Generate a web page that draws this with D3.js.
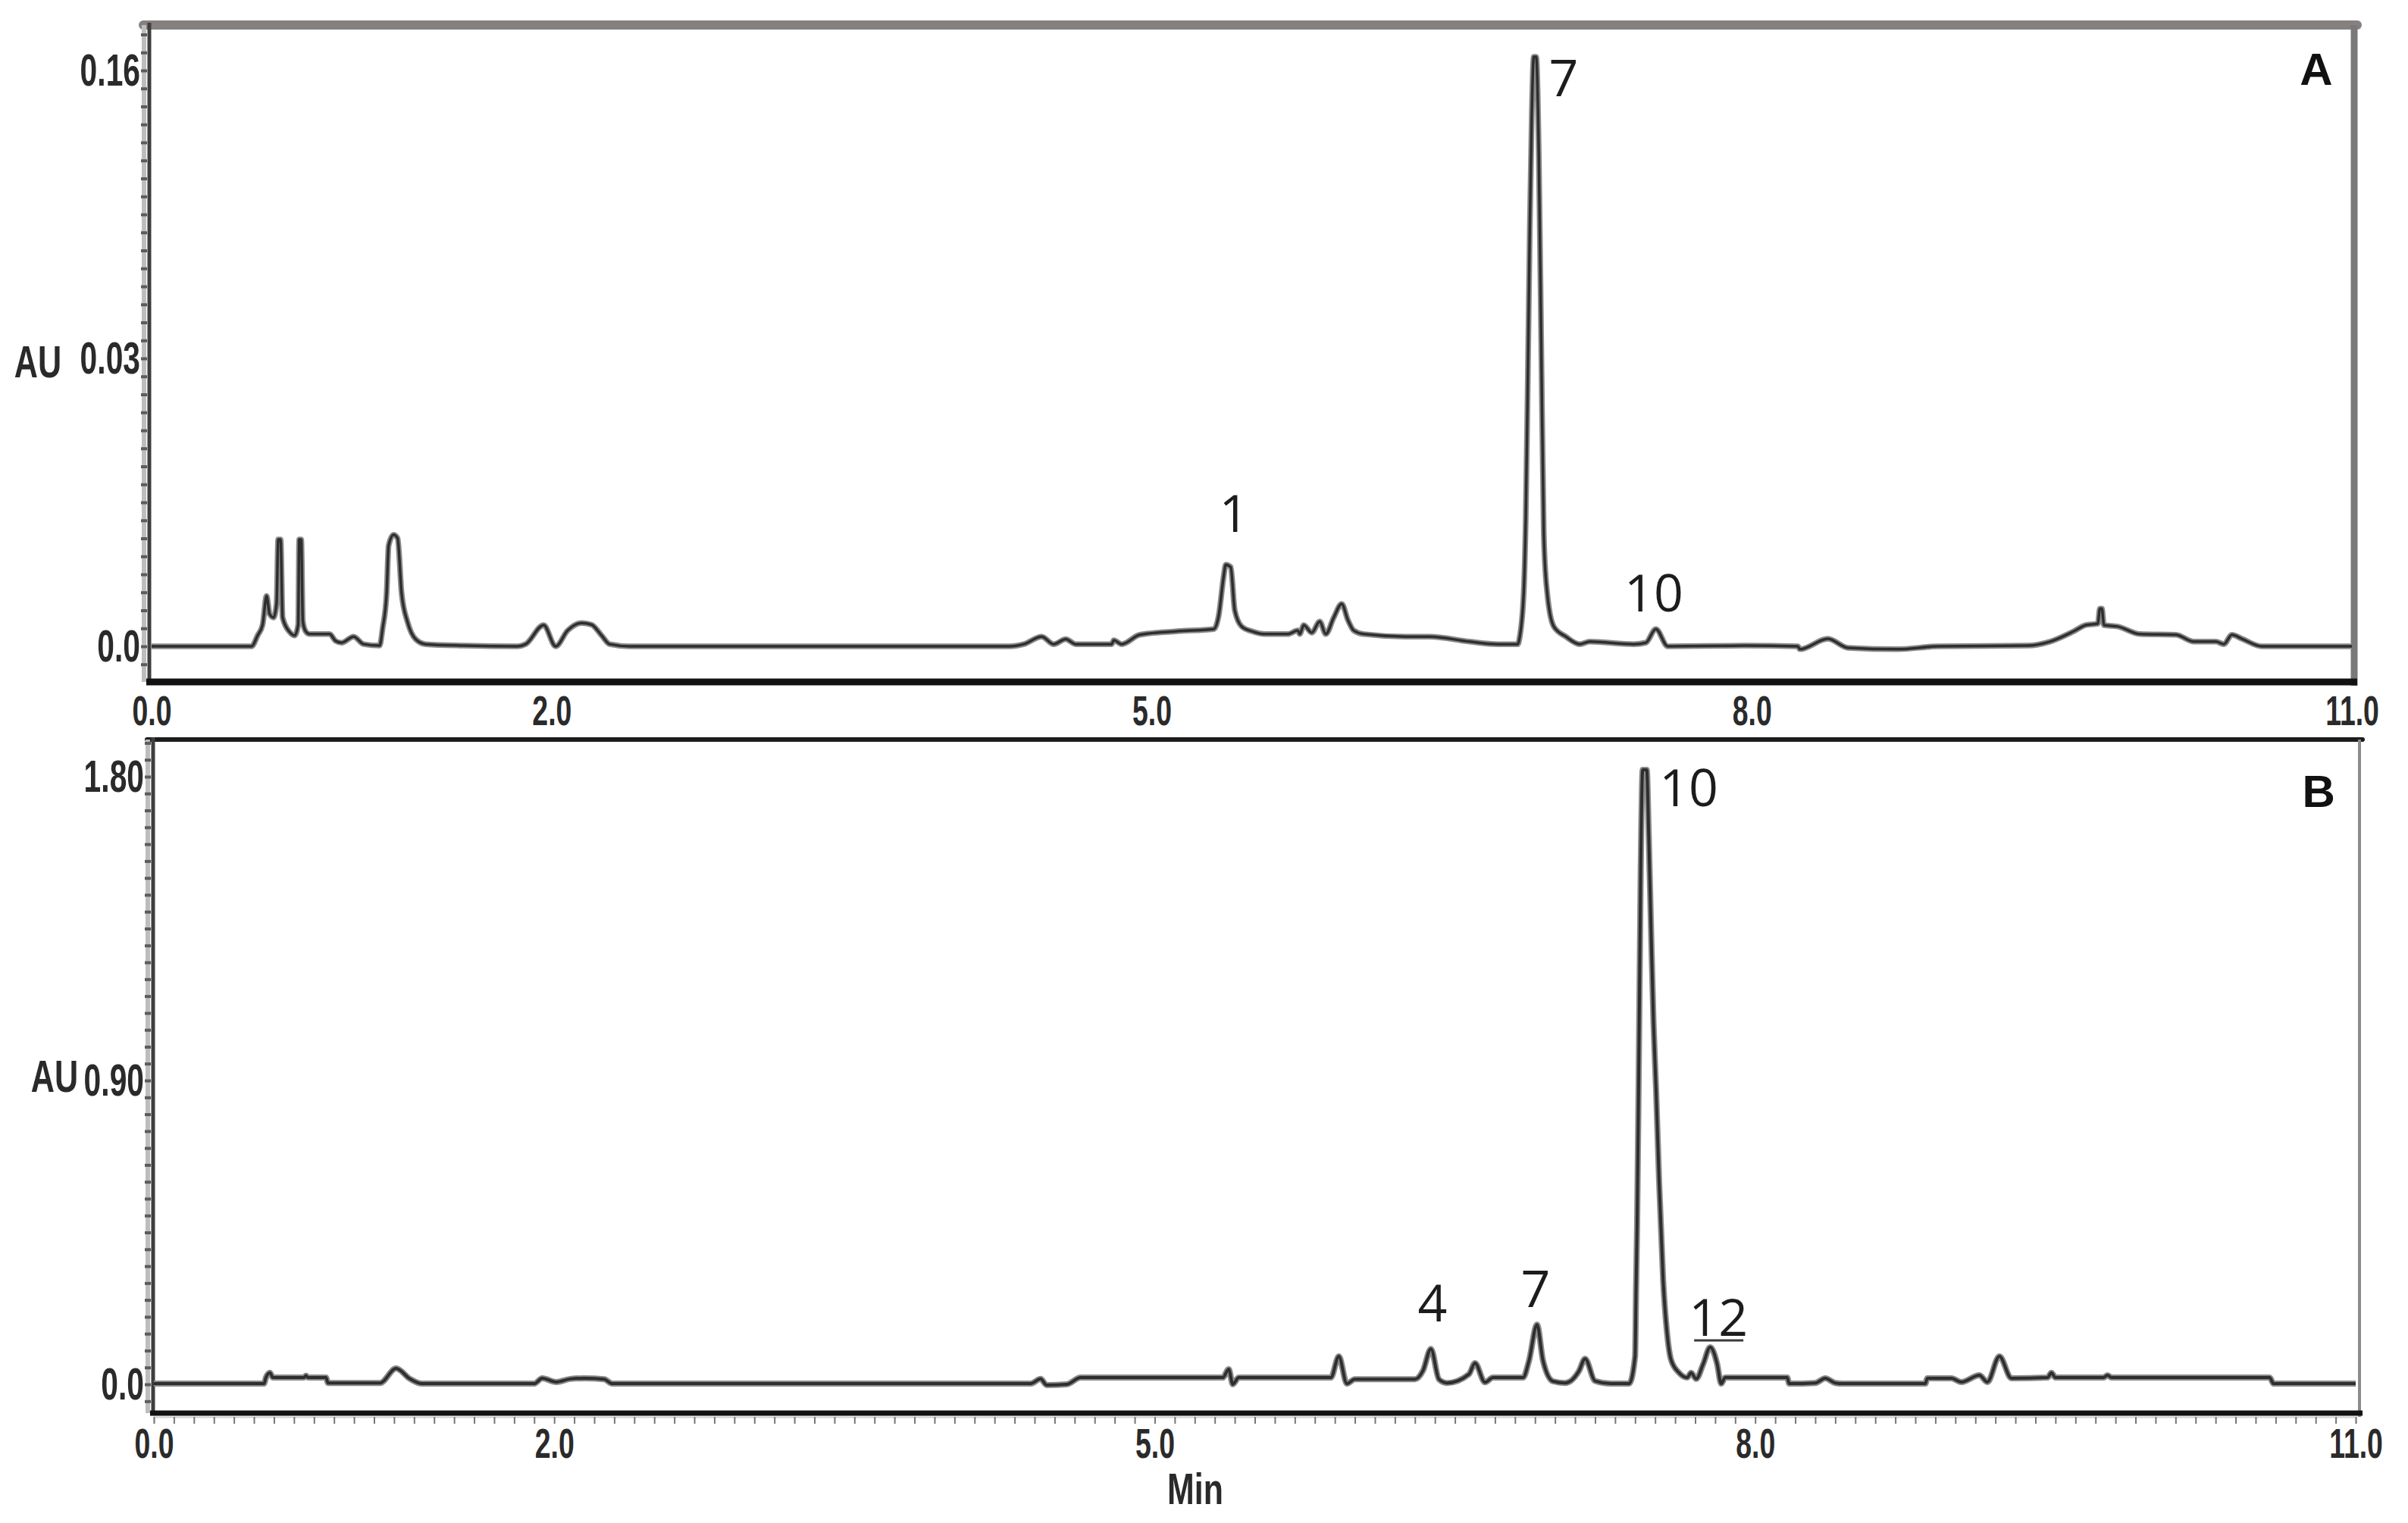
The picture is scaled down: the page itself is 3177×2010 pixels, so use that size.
<!DOCTYPE html>
<html><head><meta charset="utf-8">
<script src="https://cdn.jsdelivr.net/npm/d3@7"></script>
<style>html,body{margin:0;padding:0;background:#fff;} svg{display:block;}</style>
</head><body>
<svg id="chart" width="3177" height="2010"></svg>
<script>
// ---------------- DATA ----------------
const timeTicks = [0, 2, 5, 8, 11];
const timeTickLabels = ["0.0", "2.0", "5.0", "8.0", "11.0"];
const auTicksA = [0, 0.08, 0.16];
const auTickLabelsA = ["0.0", "0.03", "0.16"];
const auTicksB = [0, 0.9, 1.8];
const auTickLabelsB = ["0.0", "0.90", "1.80"];
const yAxisTitle = "AU";
const xAxisTitle = "Min";
const panelNames = ["A", "B"];

// chromatogram A: [time (min), AU]
const traceA = [
  [0,0],[0.50,0],[0.53,0.003],[0.555,0.006],[0.575,0.014],[0.59,0.009],[0.61,0.008],[0.625,0.012],
  [0.633,0.0297],[0.645,0.0297],[0.655,0.008],[0.69,0.004],[0.715,0.003],[0.733,0.006],[0.738,0.0297],
  [0.748,0.0297],[0.756,0.007],[0.77,0.0042],[0.79,0.0034],[0.89,0.0034],[0.92,0.0015],[0.95,0.001],
  [1.01,0.0027],[1.06,0.0006],[1.14,0.0002],[1.155,0.005],[1.175,0.0147],[1.185,0.028],[1.21,0.031],
  [1.23,0.030],[1.25,0.0147],[1.28,0.0067],[1.32,0.002],[1.37,0.0006],[1.56,0.0002],[1.83,0],
  [1.87,0.0006],[1.96,0.0059],[2.02,0],[2.08,0.0044],[2.15,0.0065],[2.20,0.006],[2.25,0.003],
  [2.29,0.0006],[2.39,0],[4.29,0],[4.36,0.0006],[4.45,0.0027],[4.51,0.0006],[4.57,0.002],[4.62,0.0006],
  [4.80,0.0006],[4.81,0.0017],[4.85,0.0006],[4.94,0.0032],[5.13,0.0042],[5.31,0.0048],[5.335,0.0086],
  [5.36,0.0196],[5.37,0.0227],[5.395,0.022],[5.415,0.010],[5.45,0.0055],[5.50,0.0042],[5.57,0.0034],
  [5.68,0.0034],[5.73,0.0044],[5.74,0.0034],[5.76,0.0059],[5.80,0.0038],[5.84,0.0069],[5.87,0.0034],
  [5.91,0.008],[5.95,0.0118],[5.98,0.0074],[6.01,0.0044],[6.06,0.0034],[6.27,0.0027],[6.39,0.0027],
  [6.59,0.0013],[6.73,0.0006],[6.83,0.0006],[6.84,0.0027],[6.86,0.0154],[6.87,0.036],[6.88,0.074],
  [6.89,0.116],[6.9,0.148],[6.91,0.1638],[6.922,0.1638],[6.935,0.137],[6.947,0.085],[6.96,0.031],
  [6.976,0.0154],[7.01,0.0055],[7.07,0.0027],[7.14,0.0006],[7.19,0.0013],[7.41,0.0006],[7.47,0.001],
  [7.52,0.0048],[7.58,0],[7.96,0.0002],[8.23,0],[8.24,-0.0008],[8.38,0.0021],[8.48,-0.0004],
  [8.73,-0.0008],[8.93,0],[9.38,0.0002],[9.49,0.0013],[9.61,0.0042],[9.67,0.0059],[9.73,0.0063],
  [9.74,0.0105],[9.75,0.0105],[9.76,0.0059],[9.83,0.0055],[9.94,0.0034],[10.12,0.0032],[10.21,0.0013],
  [10.32,0.0013],[10.36,0.0006],[10.40,0.0032],[10.45,0.0021],[10.55,0],[11.0,0]
];

// chromatogram B: [time (min), AU]
const traceB = [
  [0,0.002],[0.55,0.002],[0.56,0.02],[0.58,0.034],[0.595,0.02],[0.75,0.02],[0.76,0.026],[0.77,0.02],
  [0.86,0.02],[0.87,0.004],[1.13,0.004],[1.21,0.047],[1.28,0.016],[1.34,0.002],[1.90,0.002],
  [1.94,0.018],[2.01,0.007],[2.08,0.016],[2.15,0.018],[2.25,0.015],[2.29,0.002],[4.38,0.002],
  [4.43,0.016],[4.46,-0.002],[4.56,0],[4.63,0.02],[5.34,0.02],[5.37,0.045],[5.39,0],[5.42,0.02],
  [5.88,0.02],[5.92,0.083],[5.96,0.002],[6.0,0.015],[6.30,0.015],[6.34,0.04],[6.38,0.105],[6.42,0.015],
  [6.46,0.004],[6.57,0.03],[6.60,0.063],[6.65,0.006],[6.69,0.02],[6.84,0.02],[6.87,0.07],[6.91,0.177],
  [6.94,0.07],[6.99,0.009],[7.05,0.004],[7.12,0.04],[7.15,0.076],[7.20,0.01],[7.28,0.002],[7.37,0.002],
  [7.40,0.083],[7.405,0.285],[7.41,0.47],[7.418,0.91],[7.428,1.52],[7.438,1.82],[7.458,1.82],
  [7.468,1.63],[7.48,1.34],[7.492,1.07],[7.505,0.87],[7.52,0.60],[7.54,0.31],[7.56,0.15],[7.58,0.072],
  [7.62,0.034],[7.66,0.02],[7.68,0.034],[7.705,0.016],[7.74,0.06],[7.775,0.11],[7.81,0.06],[7.83,0.002],
  [7.85,0.02],[8.16,0.02],[8.17,0.002],[8.30,0.004],[8.35,0.018],[8.40,0.004],[8.44,0.002],[8.85,0.002],
  [8.86,0.018],[8.98,0.018],[9.03,0.007],[9.12,0.027],[9.16,0.007],[9.22,0.083],[9.28,0.018],[9.46,0.02],
  [9.48,0.034],[9.50,0.02],[9.74,0.02],[9.76,0.027],[9.78,0.02],[10.57,0.02],[10.59,0.002],[11.0,0.002]
];

// peak annotations: label, time anchor, AU anchor (baseline of the text)
const peakLabelsA = ["1", "7", "10"];
const peakTimesA = [5.411, 7.059, 7.51];
const peakAUA = [0.0318, 0.1528, 0.00968];
const peakLabelsB = ["4", "7", "10", "12"];
const peakTimesB = [6.388, 6.903, 7.668, 7.816];
const peakAUB = [0.1863, 0.229, 1.712, 0.1436];
const panelNameTimes = [10.822, 10.815];
const panelNameAU = [0.156, 1.71];

// ---------------- LAYOUT ----------------
const svg = d3.select("#chart");
svg.append("rect").attr("width", 3177).attr("height", 2010).attr("fill", "#fff");

const tickFont = "'Liberation Sans', Arial, sans-serif";
const peakFont = "'Open Sans', 'Noto Sans', sans-serif";
const squeeze = 0.68;

const panels = [
  { name: panelNames[0], trace: traceA, xRange: [200, 3103], yRange: [853, 93], yDomain: [0, 0.16],
    yTicks: auTicksA, yLabels: auTickLabelsA, axisX: 197, top: 33, bottom: 900, right: 3106,
    minorStep: 0.005, peaks: peakLabelsA, pT: peakTimesA, pV: peakAUA, nameT: panelNameTimes[0], nameV: panelNameAU[0],
    auPos: [50, 498], xLabelPad: 18, xMinor: false, topColor: "#85817f", topWidth: 12, rightColor: "#7a7878", rightWidth: 9,
    bottomWidth: 9, traceWidth: 5 },
  { name: panelNames[1], trace: traceB, xRange: [203, 3108], yRange: [1827, 1025], yDomain: [0, 1.8],
    yTicks: auTicksB, yLabels: auTickLabelsB, axisX: 202, top: 976, bottom: 1865, right: 3113,
    minorStep: 0.05, peaks: peakLabelsB, pT: peakTimesB, pV: peakAUB, nameT: panelNameTimes[1], nameV: panelNameAU[1],
    auPos: [72, 1441], xLabelPad: 20, xMinor: true, topColor: "#1c1c1c", topWidth: 6, rightColor: "#8c8c8c", rightWidth: 4,
    bottomWidth: 7, traceWidth: 5.5 }
];

panels.forEach(p => {
  const x = d3.scaleLinear().domain([0, 11]).range(p.xRange);
  const y = d3.scaleLinear().domain(p.yDomain).range(p.yRange);
  const g = svg.append("g");

  // frame: top & right border
  g.append("line").attr("x1", p.axisX - 8).attr("x2", p.right + 4).attr("y1", p.top).attr("y2", p.top)
    .attr("stroke", p.topColor).attr("stroke-width", p.topWidth).attr("stroke-linecap", "round");
  g.append("line").attr("x1", p.right).attr("x2", p.right).attr("y1", p.top).attr("y2", p.bottom + 5)
    .attr("stroke", p.rightColor).attr("stroke-width", p.rightWidth);

  // left axis band with minor ticks
  g.append("rect").attr("x", p.axisX - 10).attr("y", p.top).attr("width", 6).attr("height", p.bottom - p.top)
    .attr("fill", "#bdbdbd");
  const vTop = y.invert(p.top + 4), vBot = y.invert(p.bottom - 4);
  const minor = d3.range(Math.ceil(vBot / p.minorStep) * p.minorStep, vTop, p.minorStep);
  g.append("g").attr("transform", `translate(${p.axisX - 3},0)`)
    .call(d3.axisLeft(y).tickValues(minor).tickSize(8).tickFormat(""))
    .call(s => s.select(".domain").remove())
    .selectAll("line").attr("stroke", "#5c5c5c").attr("stroke-width", 4);
  g.append("line").attr("x1", p.axisX).attr("x2", p.axisX).attr("y1", p.top - 3).attr("y2", p.bottom)
    .attr("stroke", "#3e3e3e").attr("stroke-width", 5);

  // y tick labels
  const ya = g.append("g").attr("transform", `translate(${p.axisX - 8},0)`)
    .call(d3.axisLeft(y).tickValues(p.yTicks).tickFormat((d, i) => p.yLabels[i]).tickSize(0).tickPadding(0));
  ya.select(".domain").remove();
  ya.selectAll("text").attr("font-family", tickFont).attr("font-size", 60).attr("font-weight", "bold")
    .attr("fill", "#2a2a2a").attr("x", -4 / squeeze).attr("transform", `scale(${squeeze},1)`);

  // AU title
  g.append("g").attr("transform", `translate(${p.auPos[0]},${p.auPos[1]}) scale(0.72,1)`)
    .append("text").attr("text-anchor", "middle").attr("font-family", tickFont).attr("font-size", 60)
    .attr("font-weight", "bold").attr("fill", "#2a2a2a").text(yAxisTitle);

  // x axis line
  g.append("line").attr("x1", p.axisX - 4).attr("x2", p.right + 4).attr("y1", p.bottom).attr("y2", p.bottom)
    .attr("stroke", "#121212").attr("stroke-width", p.bottomWidth);

  if (p.xMinor) {
    const mt = d3.range(0, 110.5, 1).map(k => k / 10);
    g.append("g").attr("transform", `translate(0,${p.bottom + 5})`)
      .call(d3.axisBottom(x).tickValues(mt).tickSize(9).tickFormat(""))
      .call(s => s.select(".domain").attr("stroke", "#d0d0d0").attr("stroke-width", 2))
      .selectAll("line").attr("stroke", "#777").attr("stroke-width", 2);
  }

  // x tick labels
  const xa = g.append("g").attr("transform", `translate(0,${p.bottom})`)
    .call(d3.axisBottom(x).tickValues(timeTicks).tickFormat((d, i) => timeTickLabels[i]).tickSize(0).tickPadding(p.xLabelPad));
  xa.select(".domain").remove();
  xa.selectAll("text").attr("font-family", tickFont).attr("font-size", 55).attr("font-weight", "bold")
    .attr("fill", "#2a2a2a").attr("transform", `scale(${squeeze},1)`);

  // trace
  const line = d3.line().x(d => x(d[0])).y(d => y(d[1])).curve(d3.curveMonotoneX);
  g.append("path").datum(p.trace).attr("d", line).attr("fill", "none")
    .attr("stroke", "#8a8a8a").attr("stroke-width", p.traceWidth + 2.5).attr("stroke-linejoin", "round");
  g.append("path").datum(p.trace).attr("d", line).attr("fill", "none")
    .attr("stroke", "#2e2e2e").attr("stroke-width", p.traceWidth - 1.5).attr("stroke-linejoin", "round");

  // peak labels
  p.peaks.forEach((lab, i) => {
    g.append("text").attr("x", x(p.pT[i])).attr("y", y(p.pV[i])).attr("text-anchor", "middle")
      .attr("font-family", peakFont).attr("font-size", 68).attr("font-weight", 500).attr("fill", "#1c1c1c")
      .text(lab);
  });

  // panel name
  g.append("text").attr("x", x(p.nameT)).attr("y", y(p.nameV)).attr("text-anchor", "middle")
    .attr("font-family", tickFont).attr("font-size", 60).attr("font-weight", "bold").attr("fill", "#111")
    .text(p.name);

  if (p.name === "B") {
    const i12 = p.peaks.indexOf("12");
    g.append("line").attr("x1", x(p.pT[i12]) - 32).attr("x2", x(p.pT[i12]) + 33)
      .attr("y1", y(p.pV[i12]) + 6).attr("y2", y(p.pV[i12]) + 6).attr("stroke", "#3a3a3a").attr("stroke-width", 3);
    g.append("g").attr("transform", `translate(1577,1985) scale(0.74,1)`)
      .append("text").attr("text-anchor", "middle").attr("font-family", tickFont).attr("font-size", 58)
      .attr("font-weight", "bold").attr("fill", "#2a2a2a").text(xAxisTitle);
  }
});
</script>
</body></html>
